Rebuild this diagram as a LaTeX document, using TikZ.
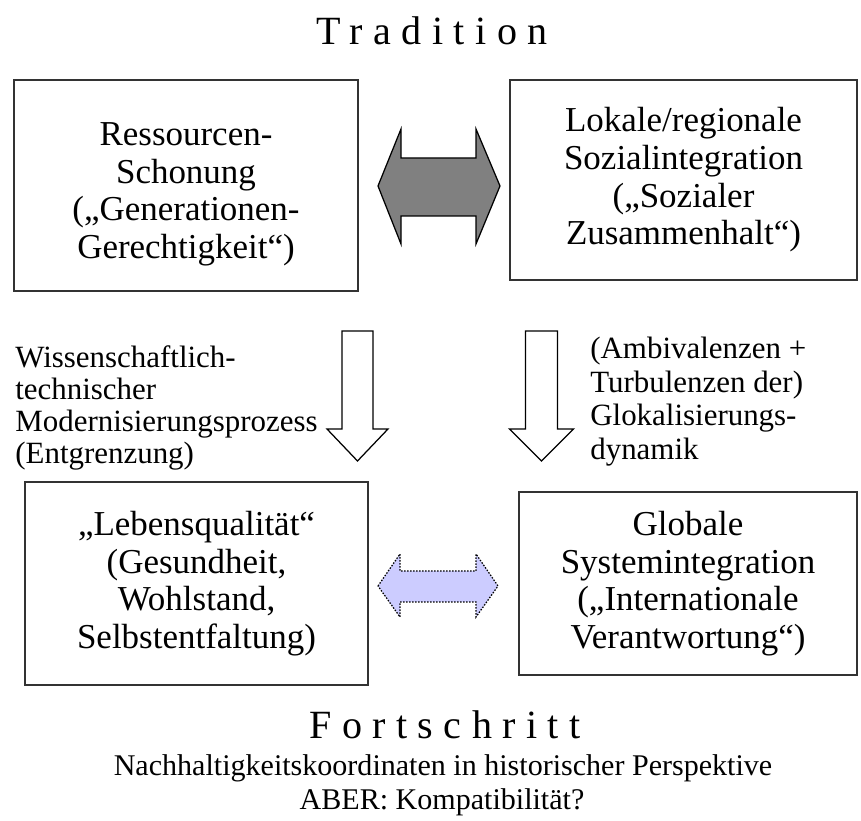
\documentclass[tikz,border=0pt]{standalone}
\usepackage{fontspec}
\setmainfont{Liberation Serif}
\newfontfamily\spacedserif[LetterSpace=26]{Liberation Serif}
\usepackage{xcolor}
\usetikzlibrary{positioning}
\definecolor{arrowgray}{HTML}{808080}
\definecolor{arrowblue}{HTML}{CCCCFF}
\definecolor{boxline}{HTML}{333333}
\newcommand{\boxfont}{\fontsize{19.9}{21.4}\selectfont}
\newcommand{\sidefont}{\fontsize{17.6}{18.2}\selectfont}
\newcommand{\footfont}{\fontsize{17.1}{18}\selectfont}
\newcommand{\headfont}{\spacedserif\fontsize{22.8}{24}\selectfont}
\tikzset{
	box/.style={draw=boxline, line width=0.04cm, align=center, inner sep=0pt, font=\boxfont},
	boxtext/.style={align=center, inner sep=0pt, font=\boxfont},
	sidelabel/.style={align=left, inner sep=0pt, anchor=north west, font=\sidefont},
	blockarrow/.style={draw=black, line width=0.025cm, line join=miter},
}

\begin{document}
\begin{tikzpicture}
                        \useasboundingbox (0,0) rectangle (17.220000,16.420000);
                        {\footnotesize

                        % Marking heading Tradition
                        \node (tradition) [anchor=base, inner sep=0pt, font=\headfont] at (8.640000,15.520000) {Tradition};%

                        % Drawing box ressourcen
                        \node (ressourcen) [box, minimum width=6.880000cm, minimum height=4.220000cm] at (3.720000,12.710000) {};%
                        \node (ressourcentext) [boxtext, below=0.180000cm of ressourcen.center, anchor=center]
                            {Ressourcen-\\Schonung\\(„Generationen-\\Gerechtigkeit“)};%

                        % Drawing box sozial
                        \node (sozial) [box, minimum width=6.940000cm, minimum height=4.000000cm] at (13.670000,12.820000)
                            {Lokale/regionale\\Sozialintegration\\(„Sozialer\\Zusammenhalt“)};%

                        % Drawing box leben
                        \node (leben) [box, minimum width=6.860000cm, minimum height=4.060000cm] at (3.930000,4.750000)
                            {„Lebensqualität“\\(Gesundheit,\\Wohlstand,\\Selbstentfaltung)};%

                        % Drawing box global
                        \node (global) [box, minimum width=6.760000cm, minimum height=3.660000cm] at (13.760000,4.750000)
                            {Globale\\Systemintegration\\(„Internationale\\Verantwortung“)};%

                        % Drawing arrow between ressourcen and sozial
                        \draw [blockarrow, fill=arrowgray] (7.560000,12.700000) -- (8.020000,13.840000) -- (8.020000,13.260000)
                            -- (9.520000,13.260000) -- (9.520000,13.840000) -- (10.000000,12.700000) -- (9.520000,11.540000)
                            -- (9.520000,12.100000) -- (8.020000,12.100000) -- (8.020000,11.540000) -- cycle;%

                        % Drawing arrow between leben and global
                        \draw [blockarrow, dash pattern=on 0.03cm off 0.03cm, fill=arrowblue] (7.560000,4.700000) -- (8.000000,5.340000)
                            -- (8.000000,5.000000) -- (9.520000,5.000000) -- (9.520000,5.340000) -- (9.960000,4.700000)
                            -- (9.520000,4.080000) -- (9.520000,4.380000) -- (8.000000,4.380000) -- (8.000000,4.080000) -- cycle;%

                        % Drawing arrow down left
                        \draw [blockarrow, fill=white] (6.840000,9.800000) -- (7.460000,9.800000) -- (7.460000,7.840000)
                            -- (7.760000,7.840000) -- (7.150000,7.200000) -- (6.540000,7.840000) -- (6.840000,7.840000) -- cycle;%

                        % Drawing arrow down right
                        \draw [blockarrow, fill=white] (10.510000,9.800000) -- (11.150000,9.800000) -- (11.150000,7.840000)
                            -- (11.470000,7.840000) -- (10.830000,7.200000) -- (10.190000,7.840000) -- (10.510000,7.840000) -- cycle;%

                        % Marking label modernisierung
                        \node (modernisierung) [sidelabel] at (0.300000,9.520000)
                            {Wissenschaftlich-\\technischer\\Modernisierungsprozess\\(Entgrenzung)};%

                        % Marking label glokal
                        \node (glokal) [sidelabel, font=\fontsize{17.6}{19.1}\selectfont] at (11.800000,9.680000)
                            {(Ambivalenzen +\\Turbulenzen der)\\Glokalisierungs-\\dynamik};%

                        % Marking heading Fortschritt
                        \node (fortschritt) [anchor=base, inner sep=0pt, font=\headfont] at (8.900000,1.640000) {Fortschritt};%

                        % Marking caption lines
                        \node (perspektive) [anchor=base, inner sep=0pt, font=\footfont] at (8.860000,0.900000)
                            {Nachhaltigkeitskoordinaten in historischer Perspektive};%
                        \node (aber) [anchor=base, inner sep=0pt, font=\footfont] at (8.840000,0.220000)
                            {ABER: Kompatibilität?};%
                        }
\end{tikzpicture}
\end{document}
